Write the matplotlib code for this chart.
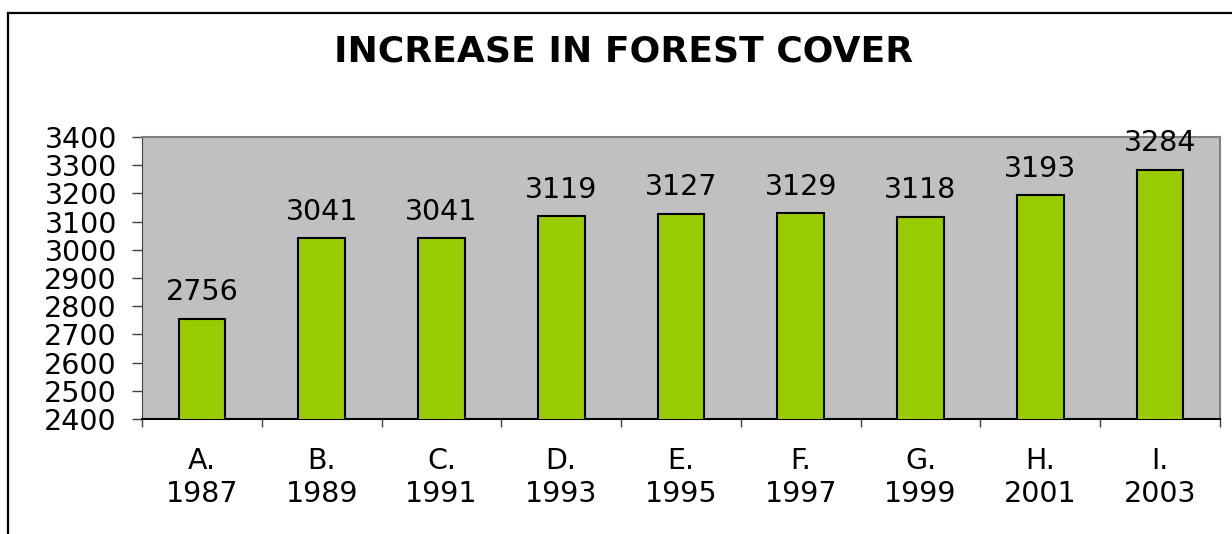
import matplotlib.pyplot as plt
import numpy as np
from matplotlib.lines import Line2D

plt.rcParams['font.family'] = ['DejaVu Sans']

categories = ["A.\n1987", "B.\n1989", "C.\n1991", "D.\n1993", "E.\n1995",
              "F.\n1997", "G.\n1999", "H.\n2001", "I.\n2003"]
cover = [2756, 3041, 3041, 3119, 3127, 3129, 3118, 3193, 3284]
yticks = [2400, 2500, 2600, 2700, 2800, 2900, 3000, 3100, 3200, 3300, 3400]

fig = plt.figure(figsize=(12.32, 5.34), dpi=100)
ax = fig.add_axes([142/1232, 1-419/534, (1220-142)/1232, (419-137)/534])
ax.set_facecolor("#C0C0C0")

x = np.arange(len(cover))
bars = ax.bar(x, cover, width=0.39, color="#99CC00", edgecolor="black",
              linewidth=1.5, zorder=3)
for xi, v in zip(x, cover):
    ax.annotate(str(v), (xi, v), xytext=(0, 9), textcoords="offset points",
                ha="center", va="bottom", fontsize=20.5)

ax.set_xlim(-0.5, len(cover) - 0.5)
ax.set_ylim(2400, 3400)
ax.set_yticks(yticks)
ax.tick_params(axis="y", labelsize=20.5, length=7, width=1, color="#404040", pad=11)

ax.set_xticks(x)
ax.set_xticklabels(categories, fontsize=20.5, linespacing=1.25)
ax.set_xticks(np.arange(len(cover) + 1) - 0.5, minor=True)
ax.tick_params(axis="x", which="major", length=0, pad=20)
ax.tick_params(axis="x", which="minor", length=6, width=1, color="#404040")

for side in ["top", "right"]:
    ax.spines[side].set_color("#808080")
    ax.spines[side].set_linewidth(1.5)
ax.spines["left"].set_color("#404040")
ax.spines["bottom"].set_color("black")
ax.spines["bottom"].set_linewidth(1.5)

fig.text(624/1232, 1-52/534, "INCREASE IN FOREST COVER", ha="center", va="center",
         fontsize=26, fontweight="bold")

# outer chart border (only top and left visible)
fig.add_artist(Line2D([8/1232, 1], [1-13/534, 1-13/534], color="black", lw=1.6,
                      transform=fig.transFigure))
fig.add_artist(Line2D([8/1232, 8/1232], [0, 1-13/534], color="black", lw=1.6,
                      transform=fig.transFigure))

fig.savefig("out.png", dpi=100)
